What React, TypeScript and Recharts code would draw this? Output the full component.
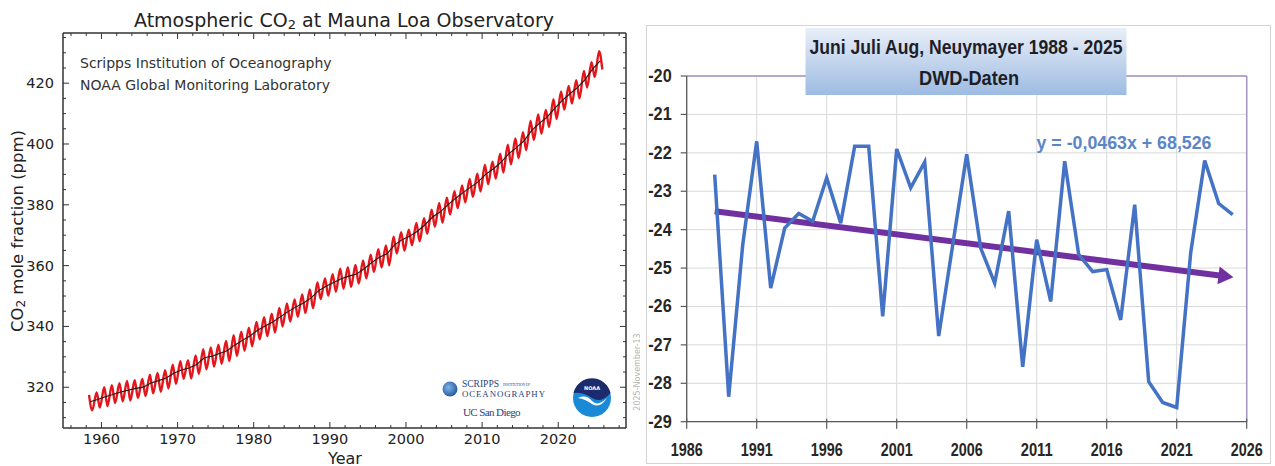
// Two panels side by side: Mauna Loa CO2 record (left) and
// Neumayer winter (JJA) temperatures with linear trend (right).

import { LineChart, Line, XAxis, YAxis, CartesianGrid, ReferenceLine } from "recharts";

// ---- Mauna Loa CO2, ppm ----
const co2Years = [
  1958, 1959, 1960, 1961, 1962, 1963, 1964, 1965, 1966, 1967, 1968, 1969,
  1970, 1971, 1972, 1973, 1974, 1975, 1976, 1977, 1978, 1979, 1980, 1981,
  1982, 1983, 1984, 1985, 1986, 1987, 1988, 1989, 1990, 1991, 1992, 1993,
  1994, 1995, 1996, 1997, 1998, 1999, 2000, 2001, 2002, 2003, 2004, 2005,
  2006, 2007, 2008, 2009, 2010, 2011, 2012, 2013, 2014, 2015, 2016, 2017,
  2018, 2019, 2020, 2021, 2022, 2023, 2024, 2025,
];
const co2Annual = [
  315.2, 315.98, 316.91, 317.64, 318.45, 318.99, 319.62, 320.04, 321.37, 322.18, 323.05, 324.62,
  325.68, 326.32, 327.46, 329.68, 330.19, 331.13, 332.03, 333.84, 335.41, 336.84, 338.76, 340.12,
  341.48, 343.15, 344.87, 346.35, 347.61, 349.31, 351.69, 353.2, 354.45, 355.7, 356.54, 357.21,
  358.96, 360.97, 362.74, 363.88, 366.84, 368.54, 369.71, 371.32, 373.45, 375.98, 377.7, 379.98,
  382.09, 384.02, 385.83, 387.64, 390.1, 391.85, 394.06, 396.74, 398.81, 401.01, 404.41, 406.76,
  408.72, 411.66, 414.24, 416.45, 418.56, 421.08, 424.61, 427.3,
];
const co2MayPeak = [
  317.5, 318.3, 320.0, 320.7, 321.3, 322.1, 322.3, 322.7, 324.1, 324.7, 325.6, 327.4,
  328.6, 328.9, 330.5, 332.5, 333.1, 334.0, 335.2, 337.1, 338.3, 339.6, 341.5, 343.0,
  344.2, 346.1, 347.6, 348.9, 350.5, 352.2, 354.5, 355.8, 357.2, 359.0, 359.5, 360.2,
  361.7, 363.6, 365.4, 366.6, 369.5, 371.0, 371.8, 374.0, 375.6, 378.4, 380.6, 382.3,
  384.5, 386.4, 388.5, 390.2, 393.2, 394.2, 396.8, 399.8, 401.8, 403.9, 407.6, 409.7,
  411.2, 414.7, 417.3, 419.1, 421.0, 424.0, 426.9, 430.5,
];
const co2AutumnLow = [
  312.4, 313.3, 313.8, 314.8, 315.4, 315.6, 316.5, 317.1, 318.0, 318.5, 319.6, 321.1,
  322.8, 322.9, 324.4, 325.9, 326.8, 327.7, 328.6, 330.3, 332.0, 333.5, 335.8, 336.8,
  338.0, 340.0, 341.6, 343.2, 344.4, 346.0, 349.0, 350.1, 351.4, 352.4, 353.0, 354.1,
  355.8, 357.9, 359.4, 360.1, 364.0, 364.9, 366.7, 368.0, 370.5, 372.8, 374.1, 376.8,
  378.9, 380.8, 382.6, 384.4, 386.8, 388.6, 390.6, 393.3, 395.4, 398.0, 401.3, 403.4,
  405.6, 408.2, 411.3, 413.3, 415.0, 418.6, 422.0, 424.5,
];
const co2XTicks = [
  1956, 1958, 1960, 1962, 1964, 1966, 1968, 1970, 1972, 1974, 1976, 1978, 1980,
  1982, 1984, 1986, 1988, 1990, 1992, 1994, 1996, 1998, 2000, 2002, 2004, 2006,
  2008, 2010, 2012, 2014, 2016, 2018, 2020, 2022, 2024, 2026, 2028,
];
const co2YTicks = [
  310, 315, 320, 325, 330, 335, 340, 345, 350, 355, 360, 365, 370, 375, 380,
  385, 390, 395, 400, 405, 410, 415, 420, 425, 430, 435,
];

// ---- Neumayer, Jun-Aug mean temperature, °C ----
const jjaYears = [
  1988, 1989, 1990, 1991, 1992, 1993, 1994, 1995, 1996, 1997, 1998, 1999, 2000,
  2001, 2002, 2003, 2004, 2005, 2006, 2007, 2008, 2009, 2010, 2011, 2012, 2013,
  2014, 2015, 2016, 2017, 2018, 2019, 2020, 2021, 2022, 2023, 2024, 2025,
];
const jjaTemps = [
  -22.57, -28.35, -24.4, -21.7, -25.52, -23.96, -23.58, -23.78, -22.65, -23.83, -21.83, -21.83, -26.26,
  -21.9, -22.91, -22.24, -26.77, -24.4, -22.04, -24.48, -25.39, -23.52, -27.57, -24.26, -25.87, -22.22,
  -24.65, -25.09, -25.04, -26.35, -23.35, -27.96, -28.5, -28.63, -24.6, -22.2, -23.32, -23.61,
];
const trendYears = [1988, 2024.2];
const trendTemps = [-23.52, -25.2];
const jjaXTicks = [1986, 1991, 1996, 2001, 2006, 2011, 2016, 2021, 2026];
const jjaYTicks = [-29, -28, -27, -26, -25, -24, -23, -22, -21, -20];

const co2Seasonal = co2Years.flatMap((y, i) => [
  { t: y + 0.37, v: co2MayPeak[i] },
  { t: y + 0.79, v: co2AutumnLow[i] },
]);
const co2Trend = co2Years.map((y, i) => ({ t: y + 0.5, v: co2Annual[i] }));
const jjaData = jjaYears.map((y, i) => ({ t: y, v: jjaTemps[i] }));
const trendData = trendYears.map((y, i) => ({ t: y, v: trendTemps[i] }));

const MPL_FONT = "'DejaVu Sans', Verdana, sans-serif";
const XL_FONT = "'Liberation Sans', Arial, sans-serif";
const FRAME = "#333";

function Co2BottomTick({ x, y, payload }: any) {
  const major = payload.value % 10 === 0;
  return (
    <g>
      <line x1={x} x2={x} y1={y} y2={y - (major ? 6 : 3)} stroke={FRAME} />
      {major && (
        <text x={x} y={y + 11} textAnchor="middle" dominantBaseline="central" fontSize={14.5} fill="#222" fontFamily={MPL_FONT}>
          {payload.value}
        </text>
      )}
    </g>
  );
}

function Co2TopTick({ x, y, payload }: any) {
  const major = payload.value % 10 === 0;
  return <line x1={x} x2={x} y1={y} y2={y + (major ? 6 : 3)} stroke={FRAME} />;
}

function Co2LeftTick({ x, y, payload }: any) {
  const major = payload.value % 20 === 0;
  return (
    <g>
      <line x1={x} x2={x + (major ? 6 : 3)} y1={y} y2={y} stroke={FRAME} />
      {major && (
        <text x={x - 9} y={y} textAnchor="end" dominantBaseline="central" fontSize={14.5} fill="#222" fontFamily={MPL_FONT}>
          {payload.value}
        </text>
      )}
    </g>
  );
}

function Co2RightTick({ x, y, payload }: any) {
  const major = payload.value % 20 === 0;
  return <line x1={x} x2={x - (major ? 6 : 3)} y1={y} y2={y} stroke={FRAME} />;
}

function Co2Panel() {
  const dom: [number, number] = [1954.95, 2028.9];
  const ydom: [number, number] = [306.6, 436.5];
  return (
    <div style={{ position: "relative", width: 640, height: 466 }}>
      <LineChart width={640} height={466} margin={{ top: 32, right: 13, bottom: 37, left: 62 }}>
        <XAxis dataKey="t" type="number" domain={dom} allowDataOverflow ticks={co2XTicks} interval={0}
          height={1} tickSize={0} tickMargin={0} tickLine={false} tick={<Co2BottomTick />}
          axisLine={{ stroke: FRAME, strokeWidth: 1.5 }} />
        <XAxis xAxisId="top" orientation="top" dataKey="t" type="number" domain={dom} allowDataOverflow
          ticks={co2XTicks} interval={0} height={1} tickSize={0} tickMargin={0} tickLine={false}
          tick={<Co2TopTick />} axisLine={{ stroke: FRAME, strokeWidth: 1.5 }} />
        <YAxis type="number" domain={ydom} allowDataOverflow ticks={co2YTicks} interval={0} width={1}
          tickSize={0} tickMargin={0} tickLine={false} tick={<Co2LeftTick />}
          axisLine={{ stroke: FRAME, strokeWidth: 1.5 }} />
        <YAxis yAxisId="right" orientation="right" type="number" domain={ydom} allowDataOverflow
          ticks={co2YTicks} interval={0} width={1} tickSize={0} tickMargin={0} tickLine={false}
          tick={<Co2RightTick />} axisLine={{ stroke: FRAME, strokeWidth: 1.5 }} />
        <Line data={co2Seasonal} dataKey="v" type="monotone" stroke="#e3161c" strokeWidth={2.4}
          dot={false} isAnimationActive={false} />
        <Line data={co2Trend} dataKey="v" type="linear" stroke="#1a1a1a" strokeWidth={1.1}
          dot={false} isAnimationActive={false} />
      </LineChart>
      <svg width={640} height={466} style={{ position: "absolute", left: 0, top: 0, pointerEvents: "none" }}>
        <text x={344} y={20} textAnchor="middle" dominantBaseline="central" fontSize={19} fill="#222" fontFamily={MPL_FONT}>
          Atmospheric CO<tspan fontSize={13} dy={4}>2</tspan><tspan dy={-4}> at Mauna Loa Observatory</tspan>
        </text>
        <text x={80} y={63} dominantBaseline="central" fontSize={14} fill="#333" fontFamily={MPL_FONT}>
          Scripps Institution of Oceanography
        </text>
        <text x={80} y={85} dominantBaseline="central" fontSize={14} fill="#333" fontFamily={MPL_FONT}>
          NOAA Global Monitoring Laboratory
        </text>
        <text x={345} y={458} textAnchor="middle" dominantBaseline="central" fontSize={16} fill="#222" fontFamily={MPL_FONT}>
          Year
        </text>
        <text transform="translate(17 231) rotate(-90)" textAnchor="middle" dominantBaseline="central" fontSize={16.5} fill="#222" fontFamily={MPL_FONT}>
          CO<tspan fontSize={12} dy={4}>2</tspan><tspan dy={-4}> mole fraction (ppm)</tspan>
        </text>
        {/* Scripps / UC San Diego mark */}
        <defs>
          <radialGradient id="globe" cx="0.4" cy="0.4" r="0.7">
            <stop offset="0" stopColor="#7fb4e6" />
            <stop offset="1" stopColor="#1c4d9c" />
          </radialGradient>
        </defs>
        <circle cx={450} cy={389} r={7.5} fill="url(#globe)" />
        <text x={462} y={387} fontSize={9.5} fill="#2b3f7a" fontFamily="'Liberation Serif', serif">SCRIPPS</text>
        <text x={503} y={386} fontSize={3.5} fill="#2b3f7a" fontFamily="'Liberation Serif', serif">INSTITUTION OF</text>
        <text x={462} y={396.5} fontSize={8.8} fill="#2b3f7a" fontFamily="'Liberation Serif', serif" textLength={83}>OCEANOGRAPHY</text>
        <text x={463} y={416} fontSize={11} fill="#2b3f7a" fontFamily="'Liberation Serif', serif" letterSpacing={-0.6}>UC San Diego</text>
        {/* NOAA mark */}
        <circle cx={592} cy={398} r={19} fill="#1b8ad6" />
        <path d="M573.5 393 A19 19 0 0 1 610.5 393 Q601 404 592 398 Q583 392 573.5 393 Z" fill="#1c2b6e" />
        <path d="M578 398 Q586 394 592 401 Q598 407 607 398 Q600 409 592 404 Q585 399 578 398 Z" fill="#fff" />
        <text x={592} y={390} textAnchor="middle" fontSize={5} fill="#fff" fontWeight="bold" fontFamily={MPL_FONT}>NOAA</text>
        {/* date stamp */}
        <text transform="translate(637 372) rotate(-90)" textAnchor="middle" dominantBaseline="central" fontSize={8} fill="#b4b4b4" fontFamily={MPL_FONT}>
          2025-November-13
        </text>
      </svg>
    </div>
  );
}

function JjaBottomTick({ x, y, payload }: any) {
  return (
    <g>
      <line x1={x} x2={x} y1={y - 3} y2={y + 7} stroke="#595959" strokeWidth={1.2} />
      <text x={x} y={y + 28} textAnchor="middle" dominantBaseline="central" fontSize={18} fontWeight="bold"
        fill="#262626" fontFamily={XL_FONT} textLength={32} lengthAdjust="spacingAndGlyphs">
        {payload.value}
      </text>
    </g>
  );
}

function JjaLeftTick({ x, y, payload }: any) {
  return (
    <g>
      <line x1={x - 6} x2={x} y1={y} y2={y} stroke="#595959" strokeWidth={1.2} />
      <text x={x - 15} y={y} textAnchor="end" dominantBaseline="central" fontSize={18} fontWeight="bold"
        fill="#262626" fontFamily={XL_FONT} textLength={23.5} lengthAdjust="spacingAndGlyphs">
        {payload.value}
      </text>
    </g>
  );
}

function ArrowHead(props: any) {
  const { cx, cy, index, points } = props;
  if (index !== trendData.length - 1 || !points || points.length < 2) return <g key={`a${index}`} />;
  const prev = points[index - 1];
  const a = Math.atan2(cy - prev.y, cx - prev.x);
  const len = 15;
  const half = 9;
  const tipX = cx + Math.cos(a) * len * 0.8;
  const tipY = cy + Math.sin(a) * len * 0.8;
  const bx = tipX - Math.cos(a) * len;
  const by = tipY - Math.sin(a) * len;
  const nx = -Math.sin(a) * half;
  const ny = Math.cos(a) * half;
  return (
    <polygon key={`a${index}`} points={`${tipX},${tipY} ${bx + nx},${by + ny} ${bx - nx},${by - ny}`} fill="#7030a0" />
  );
}

function JjaPanel() {
  return (
    <div style={{ position: "relative", width: 635, height: 466 }}>
      <div style={{ position: "absolute", left: 6, top: 25, width: 625, height: 439, border: "1px solid #d4d4d4", boxSizing: "border-box" }} />
      <LineChart width={635} height={466} margin={{ top: 76, right: 28.3, bottom: 43.3, left: 45.7 }}
        style={{ position: "absolute", left: 0, top: 0 }}>
        <CartesianGrid stroke="#d9d9d9" strokeWidth={1} />
        <XAxis dataKey="t" type="number" domain={[1986, 2026]} ticks={jjaXTicks} interval={0}
          height={1} tickSize={0} tickMargin={0} tickLine={false} tick={<JjaBottomTick />}
          axisLine={{ stroke: "#595959", strokeWidth: 1.3 }} />
        <YAxis type="number" domain={[-29, -20]} ticks={jjaYTicks} interval={0} width={1}
          tickSize={0} tickMargin={0} tickLine={false} tick={<JjaLeftTick />}
          axisLine={{ stroke: "#595959", strokeWidth: 1.3 }} />
        <ReferenceLine y={-20} stroke="#a592bd" strokeWidth={1.5} />
        <ReferenceLine x={2026} stroke="#a592bd" strokeWidth={1.5} />
        <Line data={trendData} dataKey="v" type="linear" stroke="#7030a0" strokeWidth={6}
          dot={<ArrowHead />} activeDot={false} isAnimationActive={false} />
        <Line data={jjaData} dataKey="v" type="linear" stroke="#4472c4" strokeWidth={3.5}
          strokeLinejoin="miter" dot={false} isAnimationActive={false} />
      </LineChart>
      <svg width={635} height={466} style={{ position: "absolute", left: 0, top: 0, pointerEvents: "none" }}>
        <defs>
          <linearGradient id="titleFill" x1="0" y1="0" x2="0" y2="1">
            <stop offset="0" stopColor="#e9eff8" />
            <stop offset="1" stopColor="#9dbbe2" />
          </linearGradient>
        </defs>
        <rect x={165.5} y={28} width={321} height={67} fill="url(#titleFill)" />
        <text x={326} y={47} textAnchor="middle" dominantBaseline="central" fontSize={19.5} fontWeight="bold"
          fill="#1e1e28" fontFamily={XL_FONT} textLength={313} lengthAdjust="spacingAndGlyphs">
          Juni Juli Aug, Neuymayer 1988 - 2025
        </text>
        <text x={329} y={77.5} textAnchor="middle" dominantBaseline="central" fontSize={19.5} fontWeight="bold"
          fill="#1e1e28" fontFamily={XL_FONT} textLength={100} lengthAdjust="spacingAndGlyphs">
          DWD-Daten
        </text>
        <text x={396.5} y={142} dominantBaseline="central" fontSize={19} fontWeight="bold"
          fill="#5a86c6" fontFamily={XL_FONT} textLength={175} lengthAdjust="spacingAndGlyphs">
          y = -0,0463x + 68,526
        </text>
      </svg>
    </div>
  );
}

export default function App() {
  return (
    <div style={{ position: "absolute", left: 0, top: 0, width: 1275, height: 466, background: "#fff", overflow: "hidden" }}>
      <div style={{ position: "absolute", left: 0, top: 0 }}>
        <Co2Panel />
      </div>
      <div style={{ position: "absolute", left: 640, top: 0 }}>
        <JjaPanel />
      </div>
    </div>
  );
}
